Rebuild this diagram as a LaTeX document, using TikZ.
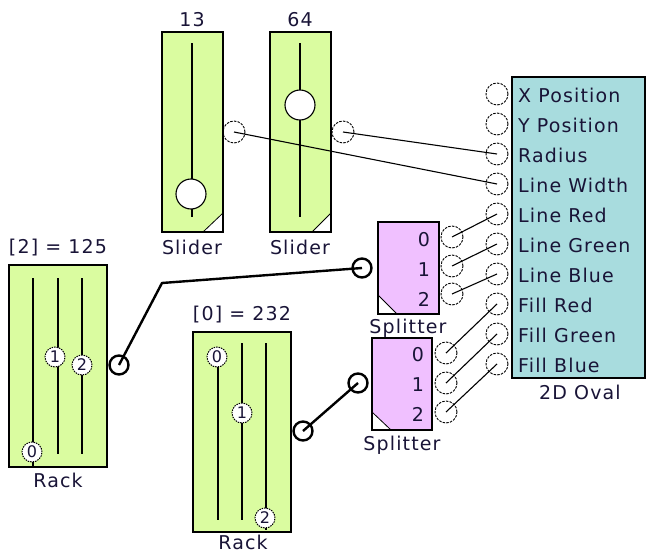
\documentclass[tikz,border=0pt]{standalone}
\usepackage{fontspec}
\setmainfont{DejaVu Sans}[LetterSpace=6]
\definecolor{grn}{RGB}{218,252,160}
\definecolor{pnk}{RGB}{240,192,255}
\definecolor{ovalc}{RGB}{168,220,222}
\definecolor{txt}{RGB}{25,20,55}
\begin{document}
\begin{tikzpicture}[x=1pt,y=-1pt,
  lbl/.style={text=txt,font=\fontsize{19}{20}\selectfont,inner sep=0},
  box/.style={draw=black,line width=1.3pt},
  port/.style={circle,draw,dash pattern=on 2.5pt off 1.2pt,line width=0.9pt,minimum size=22pt,inner sep=0},
  bport/.style={circle,draw,line width=2.4pt,minimum size=19pt,inner sep=0},
  knob/.style={circle,draw,fill=white,line width=1.1pt,minimum size=30pt,inner sep=0},
  rknob/.style={circle,draw,dash pattern=on 1.5pt off 1pt,fill=white,line width=1pt,minimum size=20pt,inner sep=0,font=\fontsize{16}{16}\selectfont,text=txt},
  wire/.style={line width=1.1pt},
  bwire/.style={line width=2.4pt},
  track/.style={line width=1.4pt},
  corner/.style={fill=white,draw,line width=0.8pt}]
\useasboundingbox (0,0) rectangle (646,554);

% ---------- Slider 1 ----------
\fill[grn] (162,32) rectangle (223,232);
\draw[corner] (203,232) -- (223,213) -- (223,232) -- cycle;
\draw[box] (162,32) rectangle (223,232);
\draw[track] (192,43) -- (192,217);
\node[knob] (kn1) at (191,194) {};
\node[lbl] (v1) at (192,20) {13};
\node[lbl] (t1) at (192,247) {Slider};
\node[port] (s1o) at (234,132) {};

% ---------- Slider 2 ----------
\fill[grn] (270,32) rectangle (331,232);
\draw[corner] (312,232) -- (331,213) -- (331,232) -- cycle;
\draw[box] (270,32) rectangle (331,232);
\draw[track] (300,43) -- (300,217);
\node[knob] (kn2) at (300,105) {};
\node[lbl] (v2) at (300,20) {64};
\node[lbl] (t2) at (300,247) {Slider};
\node[port] (s2o) at (343,132) {};

% ---------- 2D Oval ----------
\draw[box,fill=ovalc] (512,77) rectangle (645,378);
\foreach \t [count=\i from 0] in {X Position,Y Position,Radius,Line Width,Line Red,Line Green,Line Blue,Fill Red,Fill Green,Fill Blue}{
  \node[port] (op\i) at (497,94+30*\i) {};
  \node[lbl,anchor=west] (ot\i) at (518,95+30*\i) {\t};
}
\node[lbl] (ovt) at (580,392) {2D Oval};

% ---------- Splitter 1 ----------
\fill[pnk] (378,222) rectangle (439,314);
\draw[corner] (378,295) -- (397,314) -- (378,314) -- cycle;
\draw[box] (378,222) rectangle (439,314);
\node[lbl] (a0) at (424,240) {0};
\node[lbl] (a1) at (424,270) {1};
\node[lbl] (a2) at (424,299) {2};
\node[lbl] (spt1) at (408,328) {Splitter};
\node[port] (p1o0) at (452,237) {};
\node[port] (p1o1) at (452,266) {};
\node[port] (p1o2) at (452,294) {};
\node[bport] (p1in) at (362,268) {};

% ---------- Splitter 2 ----------
\fill[pnk] (372,338) rectangle (432,430);
\draw[corner] (372,412) -- (391,430) -- (372,430) -- cycle;
\draw[box] (372,338) rectangle (432,430);
\node[lbl] (b0) at (418,355) {0};
\node[lbl] (b1) at (418,385) {1};
\node[lbl] (b2) at (418,414) {2};
\node[lbl] (spt2) at (402,445) {Splitter};
\node[port] (p2o0) at (446,353) {};
\node[port] (p2o1) at (446,383) {};
\node[port] (p2o2) at (446,412) {};
\node[bport] (p2in) at (358,383) {};

% ---------- Rack 1 ----------
\draw[box,fill=grn] (9,265) rectangle (107,467);
\draw[track] (33,278) -- (33,466);
\draw[track] (58,278) -- (58,454);
\draw[track] (82,278) -- (82,454);
\node[rknob] (r1k0) at (32,452) {0};
\node[rknob] (r1k1) at (55,357) {1};
\node[rknob] (r1k2) at (82,365) {2};
\node[lbl] (r1v) at (58,248) {[2] = 125};
\node[lbl] (r1t) at (58,480) {Rack};
\node[bport] (r1o) at (119,365) {};

% ---------- Rack 2 ----------
\draw[box,fill=grn] (193,332) rectangle (291,532);
\draw[track] (218,357) -- (218,520);
\draw[track] (242,343) -- (242,520);
\draw[track] (266,343) -- (266,530);
\node[rknob] (r2k0) at (217,357) {0};
\node[rknob] (r2k1) at (242,413) {1};
\node[rknob] (r2k2) at (265,518) {2};
\node[lbl] (r2v) at (242,315) {[0] = 232};
\node[lbl] (r2t) at (243,542) {Rack};
\node[bport] (r2o) at (303,431) {};

% ---------- Wires ----------
\draw[wire] (s1o.center) -- (op3.center);
\draw[wire] (s2o.center) -- (op2.center);
\draw[wire] (p1o0.center) -- (op4.center);
\draw[wire] (p1o1.center) -- (op5.center);
\draw[wire] (p1o2.center) -- (op6.center);
\draw[wire] (p2o0.center) -- (op7.center);
\draw[wire] (p2o1.center) -- (op8.center);
\draw[wire] (p2o2.center) -- (op9.center);
\coordinate (bend) at (162,283);
\draw[bwire,line join=round] (r1o.center) -- (bend) -- (p1in.center);
\draw[bwire] (r2o.center) -- (p2in.center);
\end{tikzpicture}
\end{document}
